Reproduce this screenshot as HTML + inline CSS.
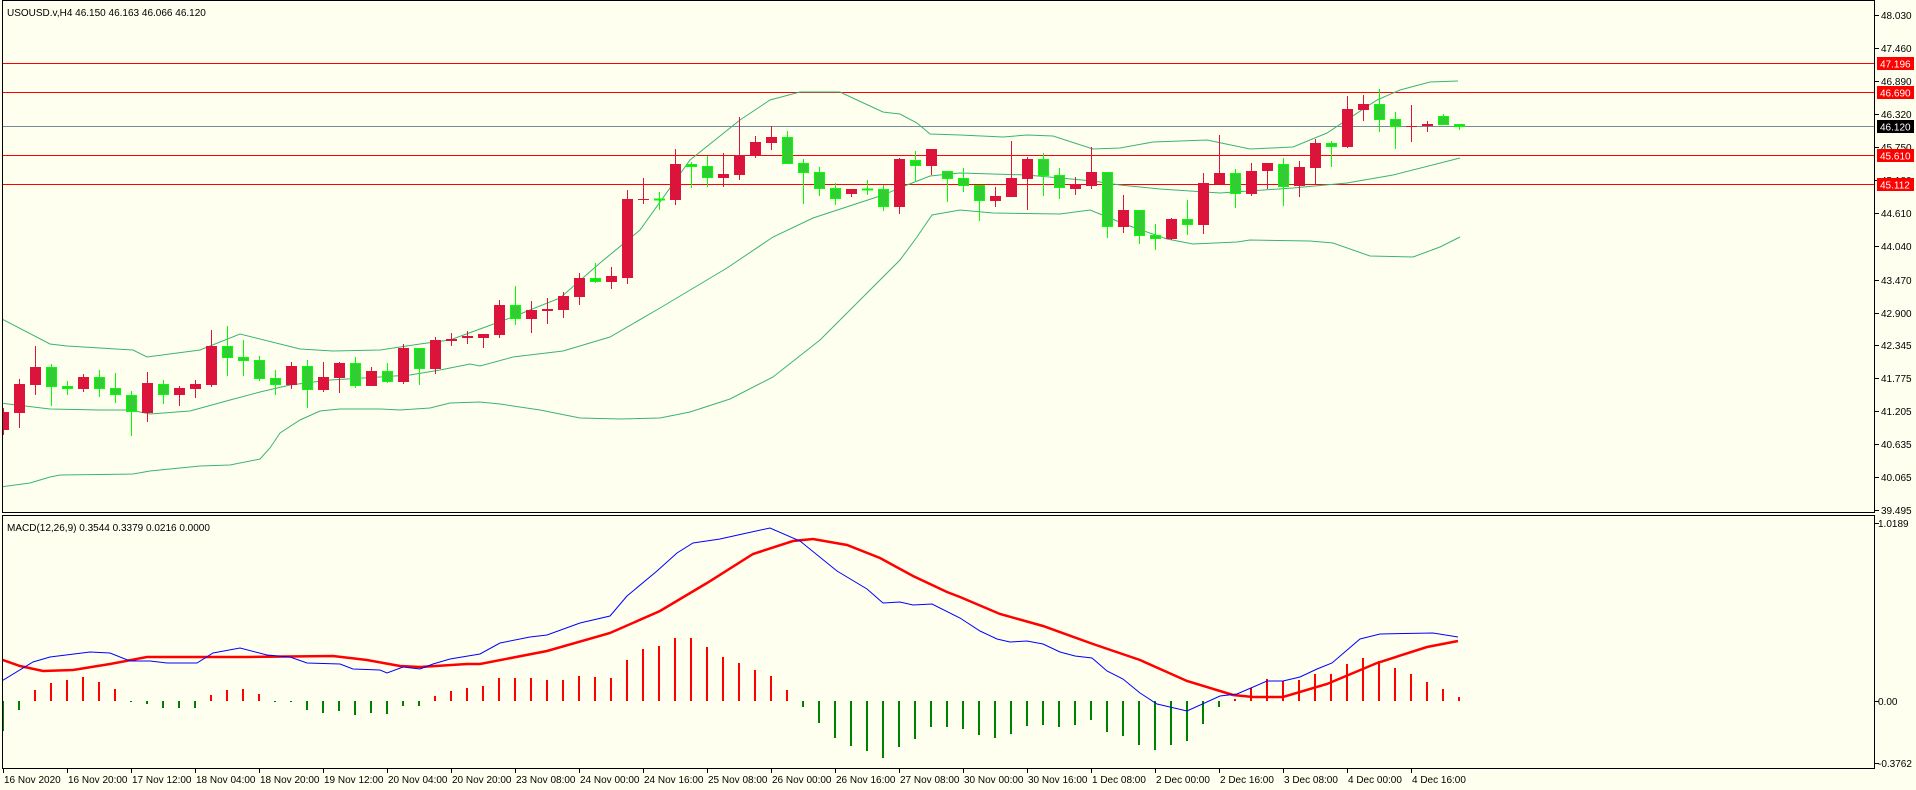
<!DOCTYPE html>
<html><head><meta charset="utf-8"><style>
html,body{margin:0;padding:0;background:#FFFFF0;}
svg{display:block;}
text{font-family:"Liberation Sans",sans-serif;font-size:10px;fill:#000;}
.r line{stroke:#DC143C;stroke-width:1}
.r rect{fill:#DC143C}
.g line{stroke:#00FF00;stroke-width:1}
.g rect{fill:#32CD32;stroke:#00FF00;stroke-width:1}
</style></head><body>
<svg width="1916" height="790" viewBox="0 0 1916 790" xmlns="http://www.w3.org/2000/svg" shape-rendering="crispEdges">
<rect x="0" y="0" width="1916" height="790" fill="#FFFFF0"/>
<defs><clipPath id="cm"><rect x="2" y="1" width="1873" height="512"/></clipPath><clipPath id="cd"><rect x="2" y="515" width="1873" height="254"/></clipPath></defs>

<g shape-rendering="crispEdges">
<line x1="2" y1="63.5" x2="1875" y2="63.5" stroke="#FF0000" stroke-width="1"/>
<line x1="2" y1="92.5" x2="1875" y2="92.5" stroke="#FF0000" stroke-width="1"/>
<line x1="2" y1="126.5" x2="1875" y2="126.5" stroke="#778899" stroke-width="1"/>
<line x1="2" y1="155.5" x2="1875" y2="155.5" stroke="#FF0000" stroke-width="1"/>
<line x1="2" y1="184.5" x2="1875" y2="184.5" stroke="#FF0000" stroke-width="1"/>
</g>

<g clip-path="url(#cm)" fill="none" stroke="#3CB371" stroke-width="1" shape-rendering="auto">
<polyline points="0,318 50,344 67,346 100,348 133,350 147,357 200,350 240,334 300,349 333,351 380,350 420,344 450,340 480,329 510,318 560,298 600,263 640,230 690,160 740,120 770,100 800,92 840,92 857,100 883,112 900,114 917,123 930,134 960,135 1003,137 1027,135 1053,136 1093,149 1120,148 1153,142 1207,140 1250,149 1293,147 1327,133 1377,100 1400,90 1430,82 1458,81"/>
<polyline points="0,403 50,409 100,410 130,410 150,414 190,411 230,400 260,392 290,385 330,380 380,377 410,375 440,370 470,364 480,366 513,357 563,351 610,337 660,308 727,268 773,237 813,218 883,195 907,185 930,176 960,173 1027,175 1093,181 1120,185 1160,189 1220,193 1293,188 1347,183 1393,175 1460,158"/>
<polyline points="0,487 30,483 50,477 60,475 133,474 150,471 200,466 230,465 260,459 270,448 280,433 300,420 320,411 340,409 380,409 400,410 430,408 450,403 480,402 500,404 540,410 580,418 620,419 660,418 690,412 730,399 773,377 820,340 867,293 900,260 917,237 932,215 960,210 993,213 1060,214 1090,210 1127,225 1167,239 1193,244 1237,242 1250,240 1310,241 1333,243 1370,256 1413,257 1440,247 1460,237"/>
</g>

<g clip-path="url(#cm)">
<g class="r"><line x1="3.5" y1="408" x2="3.5" y2="435"/><rect x="-2" y="412" width="11" height="18"/></g>
<g class="r"><line x1="19.5" y1="379" x2="19.5" y2="428"/><rect x="14" y="384" width="11" height="29"/></g>
<g class="r"><line x1="35.5" y1="346" x2="35.5" y2="395"/><rect x="30" y="367" width="11" height="18"/></g>
<g class="g"><line x1="51.5" y1="364" x2="51.5" y2="406"/><rect x="46.5" y="367.5" width="10" height="19"/></g>
<g class="g"><line x1="67.5" y1="381" x2="67.5" y2="395"/><rect x="62.5" y="386.5" width="10" height="2"/></g>
<g class="r"><line x1="83.5" y1="374" x2="83.5" y2="392"/><rect x="78" y="377" width="11" height="12"/></g>
<g class="g"><line x1="99.5" y1="370" x2="99.5" y2="397"/><rect x="94.5" y="377.5" width="10" height="11"/></g>
<g class="g"><line x1="115.5" y1="373" x2="115.5" y2="403"/><rect x="110.5" y="388.5" width="10" height="6"/></g>
<g class="g"><line x1="131.5" y1="391" x2="131.5" y2="436"/><rect x="126.5" y="395.5" width="10" height="16"/></g>
<g class="r"><line x1="147.5" y1="372" x2="147.5" y2="422"/><rect x="142" y="383" width="11" height="30"/></g>
<g class="g"><line x1="163.5" y1="380" x2="163.5" y2="404"/><rect x="158.5" y="384.5" width="10" height="10"/></g>
<g class="r"><line x1="179.5" y1="386" x2="179.5" y2="406"/><rect x="174" y="388" width="11" height="7"/></g>
<g class="r"><line x1="195.5" y1="380" x2="195.5" y2="398"/><rect x="190" y="384" width="11" height="5"/></g>
<g class="r"><line x1="211.5" y1="330" x2="211.5" y2="387"/><rect x="206" y="346" width="11" height="39"/></g>
<g class="g"><line x1="227.5" y1="326" x2="227.5" y2="376"/><rect x="222.5" y="346.5" width="10" height="11"/></g>
<g class="g"><line x1="243.5" y1="340" x2="243.5" y2="376"/><rect x="238.5" y="357.5" width="10" height="3"/></g>
<g class="g"><line x1="259.5" y1="356" x2="259.5" y2="381"/><rect x="254.5" y="360.5" width="10" height="18"/></g>
<g class="g"><line x1="275.5" y1="370" x2="275.5" y2="395"/><rect x="270.5" y="378.5" width="10" height="6"/></g>
<g class="r"><line x1="291.5" y1="362" x2="291.5" y2="389"/><rect x="286" y="366" width="11" height="19"/></g>
<g class="g"><line x1="307.5" y1="360" x2="307.5" y2="408"/><rect x="302.5" y="366.5" width="10" height="23"/></g>
<g class="r"><line x1="323.5" y1="362" x2="323.5" y2="392"/><rect x="318" y="377" width="11" height="13"/></g>
<g class="r"><line x1="339.5" y1="362" x2="339.5" y2="393"/><rect x="334" y="363" width="11" height="15"/></g>
<g class="g"><line x1="355.5" y1="357" x2="355.5" y2="388"/><rect x="350.5" y="363.5" width="10" height="22"/></g>
<g class="r"><line x1="371.5" y1="367" x2="371.5" y2="386"/><rect x="366" y="371" width="11" height="15"/></g>
<g class="g"><line x1="387.5" y1="363" x2="387.5" y2="383"/><rect x="382.5" y="371.5" width="10" height="10"/></g>
<g class="r"><line x1="403.5" y1="344" x2="403.5" y2="384"/><rect x="398" y="348" width="11" height="34"/></g>
<g class="g"><line x1="419.5" y1="348" x2="419.5" y2="385"/><rect x="414.5" y="348.5" width="10" height="20"/></g>
<g class="r"><line x1="435.5" y1="337" x2="435.5" y2="374"/><rect x="430" y="340" width="11" height="29"/></g>
<g class="r"><line x1="451.5" y1="333" x2="451.5" y2="346"/><rect x="446" y="339" width="11" height="2"/></g>
<g class="r"><line x1="467.5" y1="331" x2="467.5" y2="344"/><rect x="462" y="336" width="11" height="2"/></g>
<g class="r"><line x1="483.5" y1="334" x2="483.5" y2="348"/><rect x="478" y="334" width="11" height="4"/></g>
<g class="r"><line x1="499.5" y1="300" x2="499.5" y2="338"/><rect x="494" y="305" width="11" height="30"/></g>
<g class="g"><line x1="515.5" y1="286" x2="515.5" y2="325"/><rect x="510.5" y="305.5" width="10" height="13"/></g>
<g class="r"><line x1="531.5" y1="301" x2="531.5" y2="333"/><rect x="526" y="310" width="11" height="9"/></g>
<g class="r"><line x1="547.5" y1="298" x2="547.5" y2="324"/><rect x="542" y="309" width="11" height="2"/></g>
<g class="r"><line x1="563.5" y1="292" x2="563.5" y2="318"/><rect x="558" y="296" width="11" height="14"/></g>
<g class="r"><line x1="579.5" y1="273" x2="579.5" y2="305"/><rect x="574" y="278" width="11" height="19"/></g>
<g class="g"><line x1="595.5" y1="263" x2="595.5" y2="283"/><rect x="590.5" y="278.5" width="10" height="3"/></g>
<g class="r"><line x1="611.5" y1="267" x2="611.5" y2="289"/><rect x="606" y="276" width="11" height="6"/></g>
<g class="r"><line x1="627.5" y1="190" x2="627.5" y2="284"/><rect x="622" y="199" width="11" height="79"/></g>
<g class="r"><line x1="643.5" y1="178" x2="643.5" y2="204"/><rect x="638" y="199" width="11" height="1"/></g>
<g class="g"><line x1="659.5" y1="192" x2="659.5" y2="210"/><rect x="654.5" y="199" width="10" height="1"/></g>
<g class="r"><line x1="675.5" y1="149" x2="675.5" y2="205"/><rect x="670" y="164" width="11" height="36"/></g>
<g class="g"><line x1="691.5" y1="162" x2="691.5" y2="188"/><rect x="686.5" y="164.5" width="10" height="2"/></g>
<g class="g"><line x1="707.5" y1="156" x2="707.5" y2="187"/><rect x="702.5" y="166.5" width="10" height="11"/></g>
<g class="r"><line x1="723.5" y1="153" x2="723.5" y2="187"/><rect x="718" y="174" width="11" height="4"/></g>
<g class="r"><line x1="739.5" y1="117" x2="739.5" y2="180"/><rect x="734" y="155" width="11" height="20"/></g>
<g class="r"><line x1="755.5" y1="136" x2="755.5" y2="158"/><rect x="750" y="142" width="11" height="14"/></g>
<g class="r"><line x1="771.5" y1="126" x2="771.5" y2="150"/><rect x="766" y="137" width="11" height="6"/></g>
<g class="g"><line x1="787.5" y1="131" x2="787.5" y2="164"/><rect x="782.5" y="137.5" width="10" height="26"/></g>
<g class="g"><line x1="803.5" y1="159" x2="803.5" y2="204"/><rect x="798.5" y="163.5" width="10" height="9"/></g>
<g class="g"><line x1="819.5" y1="167" x2="819.5" y2="196"/><rect x="814.5" y="172.5" width="10" height="16"/></g>
<g class="g"><line x1="835.5" y1="183" x2="835.5" y2="205"/><rect x="830.5" y="188.5" width="10" height="10"/></g>
<g class="r"><line x1="851.5" y1="189" x2="851.5" y2="197"/><rect x="846" y="189" width="11" height="5"/></g>
<g class="g"><line x1="867.5" y1="180" x2="867.5" y2="195"/><rect x="862.5" y="189" width="10" height="1"/></g>
<g class="g"><line x1="883.5" y1="185" x2="883.5" y2="211"/><rect x="878.5" y="189.5" width="10" height="17"/></g>
<g class="r"><line x1="899.5" y1="158" x2="899.5" y2="214"/><rect x="894" y="159" width="11" height="48"/></g>
<g class="g"><line x1="915.5" y1="151" x2="915.5" y2="181"/><rect x="910.5" y="160.5" width="10" height="5"/></g>
<g class="r"><line x1="931.5" y1="149" x2="931.5" y2="175"/><rect x="926" y="149" width="11" height="17"/></g>
<g class="g"><line x1="947.5" y1="171" x2="947.5" y2="202"/><rect x="942.5" y="171.5" width="10" height="7"/></g>
<g class="g"><line x1="963.5" y1="168" x2="963.5" y2="192"/><rect x="958.5" y="178.5" width="10" height="7"/></g>
<g class="g"><line x1="979.5" y1="185" x2="979.5" y2="221"/><rect x="974.5" y="185.5" width="10" height="15"/></g>
<g class="r"><line x1="995.5" y1="187" x2="995.5" y2="207"/><rect x="990" y="196" width="11" height="5"/></g>
<g class="r"><line x1="1011.5" y1="141" x2="1011.5" y2="197"/><rect x="1006" y="178" width="11" height="19"/></g>
<g class="r"><line x1="1027.5" y1="157" x2="1027.5" y2="210"/><rect x="1022" y="159" width="11" height="20"/></g>
<g class="g"><line x1="1043.5" y1="153" x2="1043.5" y2="196"/><rect x="1038.5" y="159.5" width="10" height="16"/></g>
<g class="g"><line x1="1059.5" y1="168" x2="1059.5" y2="199"/><rect x="1054.5" y="175.5" width="10" height="12"/></g>
<g class="r"><line x1="1075.5" y1="177" x2="1075.5" y2="195"/><rect x="1070" y="184" width="11" height="5"/></g>
<g class="r"><line x1="1091.5" y1="147" x2="1091.5" y2="189"/><rect x="1086" y="172" width="11" height="14"/></g>
<g class="g"><line x1="1107.5" y1="172" x2="1107.5" y2="238"/><rect x="1102.5" y="172.5" width="10" height="54"/></g>
<g class="r"><line x1="1123.5" y1="195" x2="1123.5" y2="233"/><rect x="1118" y="210" width="11" height="17"/></g>
<g class="g"><line x1="1139.5" y1="210" x2="1139.5" y2="244"/><rect x="1134.5" y="210.5" width="10" height="25"/></g>
<g class="g"><line x1="1155.5" y1="224" x2="1155.5" y2="250"/><rect x="1150.5" y="235.5" width="10" height="3"/></g>
<g class="r"><line x1="1171.5" y1="218" x2="1171.5" y2="240"/><rect x="1166" y="219" width="11" height="20"/></g>
<g class="g"><line x1="1187.5" y1="200" x2="1187.5" y2="235"/><rect x="1182.5" y="219.5" width="10" height="5"/></g>
<g class="r"><line x1="1203.5" y1="173" x2="1203.5" y2="234"/><rect x="1198" y="183" width="11" height="42"/></g>
<g class="r"><line x1="1219.5" y1="135" x2="1219.5" y2="184"/><rect x="1214" y="173" width="11" height="11"/></g>
<g class="g"><line x1="1235.5" y1="169" x2="1235.5" y2="208"/><rect x="1230.5" y="173.5" width="10" height="20"/></g>
<g class="r"><line x1="1251.5" y1="163" x2="1251.5" y2="196"/><rect x="1246" y="171" width="11" height="23"/></g>
<g class="r"><line x1="1267.5" y1="163" x2="1267.5" y2="189"/><rect x="1262" y="163" width="11" height="8"/></g>
<g class="g"><line x1="1283.5" y1="158" x2="1283.5" y2="206"/><rect x="1278.5" y="164.5" width="10" height="22"/></g>
<g class="r"><line x1="1299.5" y1="161" x2="1299.5" y2="197"/><rect x="1294" y="167" width="11" height="19"/></g>
<g class="r"><line x1="1315.5" y1="139" x2="1315.5" y2="184"/><rect x="1310" y="143" width="11" height="25"/></g>
<g class="g"><line x1="1331.5" y1="141" x2="1331.5" y2="167"/><rect x="1326.5" y="143.5" width="10" height="3"/></g>
<g class="r"><line x1="1347.5" y1="96" x2="1347.5" y2="148"/><rect x="1342" y="109" width="11" height="38"/></g>
<g class="r"><line x1="1363.5" y1="95" x2="1363.5" y2="121"/><rect x="1358" y="104" width="11" height="6"/></g>
<g class="g"><line x1="1379.5" y1="89" x2="1379.5" y2="132"/><rect x="1374.5" y="104.5" width="10" height="15"/></g>
<g class="g"><line x1="1395.5" y1="112" x2="1395.5" y2="149"/><rect x="1390.5" y="119.5" width="10" height="7"/></g>
<g class="r"><line x1="1411.5" y1="105" x2="1411.5" y2="142"/><rect x="1406" y="126" width="11" height="1"/></g>
<g class="r"><line x1="1427.5" y1="121" x2="1427.5" y2="132"/><rect x="1422" y="124" width="11" height="2"/></g>
<g class="g"><line x1="1443.5" y1="114" x2="1443.5" y2="125"/><rect x="1438.5" y="116.5" width="10" height="8"/></g>
<g class="g"><line x1="1459.5" y1="124" x2="1459.5" y2="130"/><rect x="1454.5" y="124.5" width="10" height="2"/></g>
</g>

<g clip-path="url(#cd)" stroke-width="2">
<path stroke="#FF0000" d="M35 701V690M51 701V683M67 701V680M83 701V677M99 701V682M115 701V689M211 701V695M227 701V690M243 701V689M259 701V694M435 701V696M451 701V691M467 701V688M483 701V686M499 701V678M515 701V678M531 701V678M547 701V680M563 701V680M579 701V676M595 701V677M611 701V678M627 701V660M643 701V649M659 701V646M675 701V638M691 701V638M707 701V647M723 701V657M739 701V663M755 701V670M771 701V676M787 701V690M1235 701V699M1251 701V688M1267 701V679M1283 701V681M1299 701V680M1315 701V674M1331 701V674M1347 701V664M1363 701V658M1379 701V661M1395 701V668M1411 701V674M1427 701V682M1443 701V689M1459 701V697"/>
<path stroke="#008000" d="M3 701V731M19 701V710M131 701V702M147 701V704M163 701V708M179 701V708M195 701V708M275 701V702M291 701V702M307 701V710M323 701V713M339 701V711M355 701V715M371 701V713M387 701V714M403 701V706M419 701V706M803 701V707M819 701V723M835 701V738M851 701V746M867 701V751M883 701V758M899 701V747M915 701V739M931 701V727M947 701V727M963 701V729M979 701V735M995 701V738M1011 701V734M1027 701V726M1043 701V725M1059 701V727M1075 701V725M1091 701V720M1107 701V732M1123 701V736M1139 701V745M1155 701V750M1171 701V745M1187 701V741M1203 701V724M1219 701V707"/>
</g>

<g clip-path="url(#cd)" fill="none" shape-rendering="auto">
<polyline stroke="#FF0000" stroke-width="2.5" points="0,659 20,666 43,671 73,670 110,664 147,657 200,657 247,657 333,656 367,660 400,666 420,667 467,664 480,664 547,651 610,633 660,611 707,583 753,554 793,541 813,539 847,545 880,558 913,576 947,592 960,597 1000,614 1043,626 1093,644 1140,660 1187,681 1233,695 1253,697 1283,697 1327,684 1377,663 1427,647 1458,641"/>
<polyline stroke="#0000FF" stroke-width="1" points="0,682 33,662 50,657 90,652 110,653 130,661 150,661 167,663 197,663 213,653 240,648 267,655 290,657 307,663 340,664 353,669 380,670 387,673 403,667 420,669 433,664 450,659 480,654 500,643 530,637 547,635 580,623 610,616 627,596 657,571 677,553 693,543 720,539 747,533 770,528 800,541 837,571 867,589 883,603 900,602 913,605 932,604 960,618 980,631 997,639 1010,642 1027,641 1043,644 1060,652 1075,656 1092,658 1107,671 1123,679 1140,693 1157,704 1187,711 1220,696 1237,694 1267,681 1283,681 1300,677 1317,669 1332,663 1360,639 1380,634 1433,633 1458,637"/>
</g>

<g fill="none" stroke="#000" stroke-width="1">
<rect x="2.5" y="0.5" width="1872" height="512"/>
<rect x="2.5" y="515.5" width="1872" height="253"/>
</g>

<g stroke="#000" stroke-width="1">
<path d="M1875 15.5h4M1875 48.5h4M1875 81.5h4M1875 114.5h4M1875 147.5h4M1875 180.5h4M1875 213.5h4M1875 246.5h4M1875 280.5h4M1875 313.5h4M1875 345.5h4M1875 378.5h4M1875 411.5h4M1875 444.5h4M1875 477.5h4M1875 510.5h4M1875 523.5h4M1875 701.5h4M1875 763.5h4"/>
<path d="M3.5 769v4M67.5 769v4M131.5 769v4M195.5 769v4M259.5 769v4M323.5 769v4M387.5 769v4M451.5 769v4M515.5 769v4M579.5 769v4M643.5 769v4M707.5 769v4M771.5 769v4M835.5 769v4M899.5 769v4M963.5 769v4M1027.5 769v4M1091.5 769v4M1155.5 769v4M1219.5 769v4M1283.5 769v4M1347.5 769v4M1411.5 769v4"/>
</g>
<g>
<text x="1881" y="19">48.030</text>
<text x="1881" y="52">47.460</text>
<text x="1881" y="85">46.890</text>
<text x="1881" y="118">46.320</text>
<text x="1881" y="151">45.750</text>
<text x="1881" y="184">45.180</text>
<text x="1881" y="217">44.610</text>
<text x="1881" y="250">44.040</text>
<text x="1881" y="284">43.470</text>
<text x="1881" y="317">42.900</text>
<text x="1881" y="349">42.345</text>
<text x="1881" y="382">41.775</text>
<text x="1881" y="415">41.205</text>
<text x="1881" y="448">40.635</text>
<text x="1881" y="481">40.065</text>
<text x="1881" y="514">39.495</text>
<text x="1878" y="527">1.0189</text>
<text x="1878" y="705">0.00</text>
<text x="1878" y="767">-0.3762</text>
</g>
<g>
<rect x="1877" y="57" width="37" height="13" fill="#FF0000"/><text x="1880" y="67.5" style="fill:#fff">47.196</text>
<rect x="1877" y="86" width="37" height="13" fill="#FF0000"/><text x="1880" y="96.5" style="fill:#fff">46.690</text>
<rect x="1877" y="120" width="37" height="13" fill="#000"/><text x="1880" y="130.5" style="fill:#fff">46.120</text>
<rect x="1877" y="149" width="37" height="13" fill="#FF0000"/><text x="1880" y="159.5" style="fill:#fff">45.610</text>
<rect x="1877" y="178" width="37" height="13" fill="#FF0000"/><text x="1880" y="188.5" style="fill:#fff">45.112</text>
</g>

<g>
<text x="4" y="783">16 Nov 2020</text>
<text x="68" y="783">16 Nov 20:00</text>
<text x="132" y="783">17 Nov 12:00</text>
<text x="196" y="783">18 Nov 04:00</text>
<text x="260" y="783">18 Nov 20:00</text>
<text x="324" y="783">19 Nov 12:00</text>
<text x="388" y="783">20 Nov 04:00</text>
<text x="452" y="783">20 Nov 20:00</text>
<text x="516" y="783">23 Nov 08:00</text>
<text x="580" y="783">24 Nov 00:00</text>
<text x="644" y="783">24 Nov 16:00</text>
<text x="708" y="783">25 Nov 08:00</text>
<text x="772" y="783">26 Nov 00:00</text>
<text x="836" y="783">26 Nov 16:00</text>
<text x="900" y="783">27 Nov 08:00</text>
<text x="964" y="783">30 Nov 00:00</text>
<text x="1028" y="783">30 Nov 16:00</text>
<text x="1092" y="783">1 Dec 08:00</text>
<text x="1156" y="783">2 Dec 00:00</text>
<text x="1220" y="783">2 Dec 16:00</text>
<text x="1284" y="783">3 Dec 08:00</text>
<text x="1348" y="783">4 Dec 00:00</text>
<text x="1412" y="783">4 Dec 16:00</text>
</g>

<text x="7" y="16">USOUSD.v,H4  46.150 46.163 46.066 46.120</text>
<text x="7" y="531">MACD(12,26,9) 0.3544 0.3379 0.0216 0.0000</text>
</svg>
</body></html>
